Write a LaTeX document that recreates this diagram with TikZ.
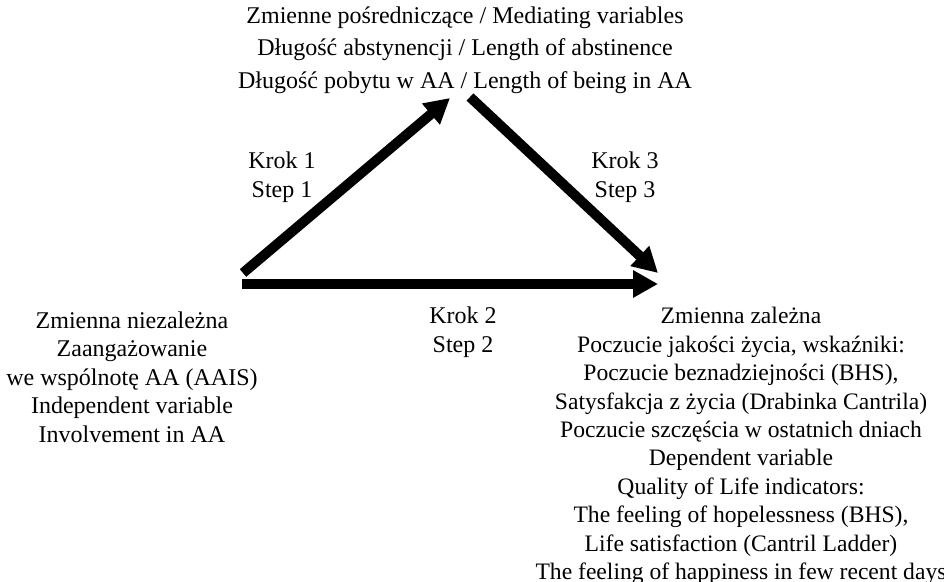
\documentclass[tikz,border=0pt]{standalone}
\usepackage{fontspec}
\setmainfont{Liberation Serif}
\usetikzlibrary{arrows.meta}

\begin{document}
\begin{tikzpicture}[x=0.5pt, y=-0.5pt,
    txt/.style = {align=center, inner sep=0pt, font=\fontsize{12}{14.25}\selectfont},
    path/.style = {line width=5pt, -{Triangle[length=12.5pt, width=13pt]}}]
  \tikzset{every node/.style={anchor=center, text centered}}
  \useasboundingbox (0,0) rectangle (944,582);
  % variables
  \node[txt, font=\fontsize{12}{16.25}\selectfont] (med) at (465,50)
    {Zmienne pośredniczące / Mediating variables\\
     Długość abstynencji / Length of abstinence\\
     Długość pobytu w AA / Length of being in AA};
  \node[txt] (iv) at (132,377)
    {Zmienna niezależna\\ Zaangażowanie\\ we wspólnotę AA (AAIS)\\
     Independent variable\\ Involvement in AA};
  \node[txt, font=\fontsize{11.8}{14.2}\selectfont] (dv) at (741,446)
    {Zmienna zależna\\ Poczucie jakości życia, wskaźniki:\\
     Poczucie beznadziejności (BHS),\\ Satysfakcja z życia (Drabinka Cantrila)\\
     Poczucie szczęścia w ostatnich dniach\\ Dependent variable\\
     Quality of Life indicators:\\ The feeling of hopelessness (BHS),\\
     Life satisfaction (Cantril Ladder)\\ The feeling of happiness in few recent days};
  % steps
  \node[txt] (step1) at (282,177) {Krok 1\\ Step 1};
  \node[txt] (step3) at (625,177) {Krok 3\\ Step 3};
  \node[txt] (step2) at (463,332) {Krok 2\\ Step 2};
  % arrow ends
  \coordinate (a1) at (243,273);
  \coordinate (m1) at (450,98);
  \coordinate (m3) at (470,97);
  \coordinate (d3) at (658,273);
  \coordinate (a2) at (242,284);
  \coordinate (d2) at (658,284);
  \draw[path] (a1) -- (m1);
  \draw[path] (m3) -- (d3);
  \draw[path] (a2) -- (d2);
\end{tikzpicture}
\end{document}
